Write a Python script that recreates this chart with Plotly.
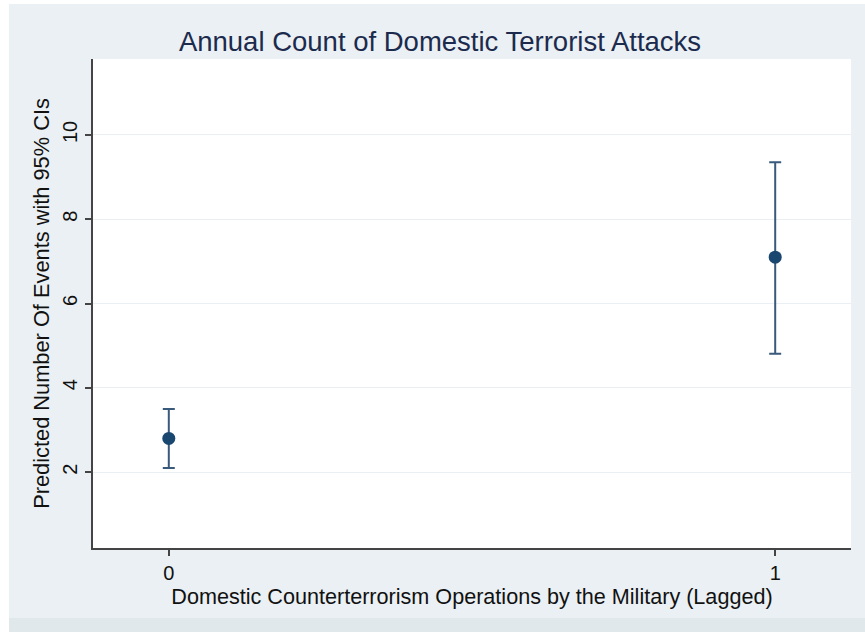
import plotly.graph_objects as go

# Data
categories = [0, 1]
estimates = [2.80, 7.10]
ci_low = [2.10, 4.81]
ci_high = [3.50, 9.35]
y_ticks = [2, 4, 6, 8, 10]
x_ticks = [0, 1]

W, H = 865, 632
L, R, T, B = 93, 14, 59, 84
pw, ph = W - L - R, H - T - B

def px_x(p):
    return (p - L) / pw

def px_y(p):
    return 1 - (p - T) / ph

navy = "#1a476f"
bar_col = "#3a5a7c"
font_fam = "Liberation Sans, Arial, Helvetica, sans-serif"

err_plus = [h - e for h, e in zip(ci_high, estimates)]
err_minus = [e - l for e, l in zip(estimates, ci_low)]

fig = go.Figure()
fig.add_trace(go.Scatter(
    x=categories, y=estimates, mode="markers",
    marker=dict(color=navy, size=13),
    error_y=dict(type="data", symmetric=False, array=err_plus, arrayminus=err_minus,
                 color=bar_col, thickness=2, width=6),
    showlegend=False,
))

fig.update_layout(
    width=W, height=H,
    margin=dict(l=L, r=R, t=T, b=B),
    paper_bgcolor="#eaf0f3",
    plot_bgcolor="#ffffff",
    font=dict(family=font_fam, color="#111111"),
    title=dict(text="Annual Count of Domestic Terrorist Attacks",
               x=440 / W, xanchor="center", y=1 - 41 / H, yanchor="middle",
               yref="container", xref="container",
               font=dict(size=27.5, color="#1c2b4d", family=font_fam)),
    xaxis=dict(range=[-0.125, 1.125], tickvals=x_ticks, ticktext=[str(v) for v in x_ticks],
               showgrid=False, zeroline=False,
               showline=True, linecolor="#444444", linewidth=1.5,
               ticks="outside", ticklen=6, tickcolor="#444444", tickwidth=1.5,
               tickfont=dict(size=20, color="#111111"),
               title=dict(text="Domestic Counterterrorism Operations by the Military (Lagged)",
                          font=dict(size=21.6, color="#111111"), standoff=5)),
    yaxis=dict(range=[0.2, 11.8], tickvals=y_ticks, ticktext=[str(v) for v in y_ticks],
               showgrid=True, gridcolor="#e9eff3", gridwidth=1, zeroline=False,
               showline=True, linecolor="#444444", linewidth=1.5,
               ticks="outside", ticklen=6, tickcolor="#444444", tickwidth=1.5,
               tickangle=-90,
               tickfont=dict(size=20, color="#111111"),
               title=dict(text="Predicted Number Of Events with 95% CIs",
                          font=dict(size=21.8, color="#111111"), standoff=4)),
    shapes=[
        dict(type="rect", xref="paper", yref="paper", x0=px_x(0), x1=px_x(9),
             y0=px_y(H), y1=px_y(0), fillcolor="#ffffff", line=dict(width=0), layer="below"),
        dict(type="rect", xref="paper", yref="paper", x0=px_x(0), x1=px_x(W),
             y0=px_y(4), y1=px_y(0), fillcolor="#ffffff", line=dict(width=0), layer="below"),
        dict(type="rect", xref="paper", yref="paper", x0=px_x(9), x1=px_x(W),
             y0=px_y(H), y1=px_y(618), fillcolor="#e1e8ec", line=dict(width=0), layer="below"),
    ],
)

fig.write_html("out.html", config={"displayModeBar": False},
               post_script="document.body.style.margin='0';document.body.style.padding='0';")
